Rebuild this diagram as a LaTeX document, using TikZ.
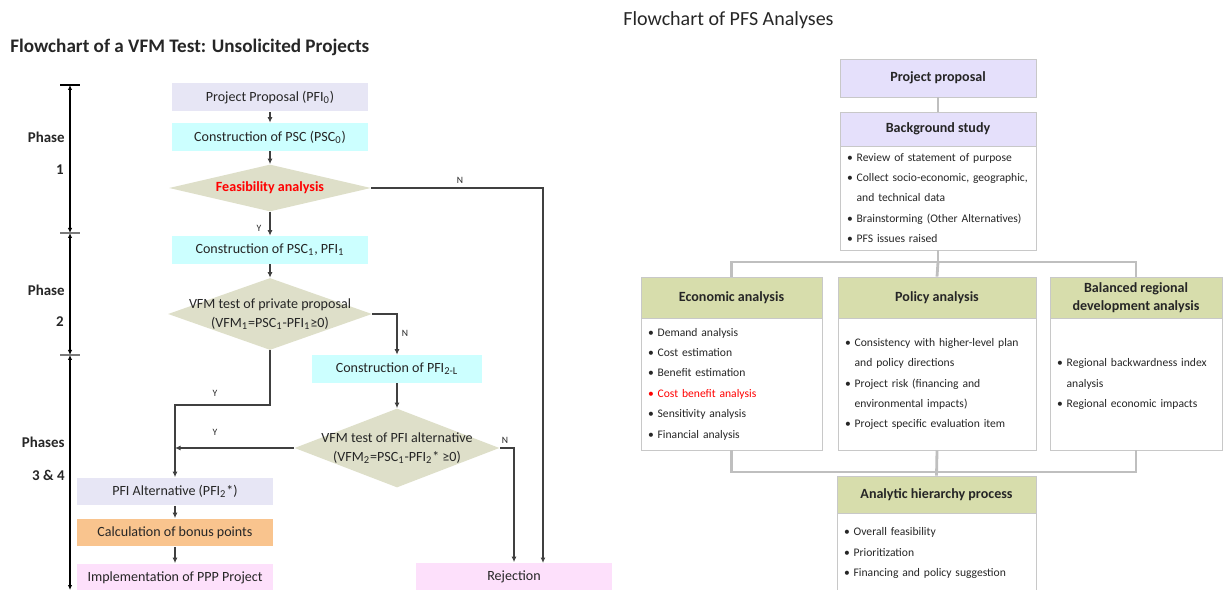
\documentclass[tikz,border=0pt]{standalone}
\usepackage{fontspec}
\setmainfont{Carlito}
\usepackage{tikz}
\usetikzlibrary{arrows.meta,calc,positioning,shapes.geometric,shadows}
\definecolor{figInk}{RGB}{38,38,38}
\definecolor{figLine}{RGB}{64,64,64}
\definecolor{treeLine}{RGB}{191,191,191}
\definecolor{boxEdge}{RGB}{200,200,200}
\definecolor{lavLeft}{RGB}{231,230,245}
\definecolor{lavRight}{RGB}{229,224,251}
\definecolor{cyanBox}{RGB}{204,255,255}
\definecolor{decFill}{RGB}{222,223,201}
\definecolor{bonusBox}{RGB}{249,196,142}
\definecolor{pinkBox}{RGB}{253,224,251}
\definecolor{headKhaki}{RGB}{215,221,172}
\definecolor{alertRed}{RGB}{255,0,0}

\begin{document}
\begin{tikzpicture}[
  x=0.02cm,
  y=-0.02cm,
  >=Latex,
  font=\fontsize{8}{9.5}\selectfont,
  flowbox/.style={minimum width=3.92cm, minimum height=0.56cm, inner sep=0pt, text=figInk},
  decision/.style={diamond, fill=decFill, inner sep=0pt},
  dectext/.style={align=center, text=figInk, font=\fontsize{8}{10.5}\selectfont},
  line/.style={-{Latex[length=1.1mm,width=1mm]}, draw=figLine, line width=0.6pt},
  yn/.style={font=\fontsize{5.5}{6}\selectfont, text=figInk},
  phase/.style={anchor=east, inner sep=0pt, font=\bfseries\fontsize{8.5}{10}\selectfont, text=figInk},
  phasearrow/.style={{Latex[length=1mm,width=0.9mm]}-{Latex[length=1mm,width=0.9mm]}, draw=black, line width=0.7pt},
  head/.style={draw=boxEdge, line width=0.4pt, inner sep=0pt, align=center, font=\bfseries\fontsize{8}{10}\selectfont, text=figInk},
  body/.style={draw=boxEdge, line width=0.4pt, fill=white, inner xsep=0.14cm, inner ysep=0pt, align=left, font=\fontsize{6.6}{11.6}\selectfont, text=figInk,
    drop shadow={opacity=0.2, shadow xshift=0.6pt, shadow yshift=-0.6pt}},
  tree/.style={draw=treeLine, line width=1.6pt}
]
\useasboundingbox (0,0) rectangle (1223,590);

% titles
\node[anchor=west, inner sep=0pt, font=\bfseries\fontsize{10.9}{12}\selectfont, text=figInk] (title1) at (10,47) {Flowchart of a VFM Test: Unsolicited Projects};
\node[anchor=west, inner sep=0pt, font=\fontsize{11.4}{13}\selectfont, text=figInk] (title2) at (623,20) {Flowchart of PFS Analyses};

% phase axis
\coordinate (p0) at (70,85);
\coordinate (p1) at (70,233);
\coordinate (p2) at (70,355);
\coordinate (p3) at (70,590);
\draw[phasearrow] (p0) -- (p1);
\draw[phasearrow] (p1) -- (p2);
\draw[phasearrow] (p2) -- (p3);
\draw[black, line width=0.7pt] ([xshift=-0.2cm]p0) -- ([xshift=0.2cm]p0);
\draw[figLine!70, line width=0.7pt] ([xshift=-0.2cm]p1) -- ([xshift=0.2cm]p1);
\draw[figLine!70, line width=0.7pt] ([xshift=-0.2cm]p2) -- ([xshift=0.2cm]p2);
\node[phase] (ph1a) at (65,137) {Phase};
\node[phase] (ph1b) at (64,170) {1};
\node[phase] (ph2a) at (65,290) {Phase};
\node[phase] (ph2b) at (64,322) {2};
\node[phase] (ph3a) at (65,442) {Phases};
\node[phase] (ph3b) at (65,475) {3 \& 4};

% VFM flow
\node[flowbox, fill=lavLeft] (pfi0) at (270,97.5) {Project Proposal (PFI\textsubscript{0})};
\node[flowbox, fill=cyanBox] (psc0) at (270,137) {Construction of PSC (PSC\textsubscript{0})};
\node[decision, minimum width=4.04cm, minimum height=0.94cm] (feas) at (270,188) {};
\node[dectext, text=alertRed, font=\bfseries\fontsize{8}{10}\selectfont] (feast) at (feas) {Feasibility analysis};
\node[flowbox, fill=cyanBox] (psc1) at (270,250) {Construction of PSC\textsubscript{1}, PFI\textsubscript{1}};
\node[decision, minimum width=4.08cm, minimum height=1.44cm] (vfm1) at (270,314) {};
\node[dectext] (vfm1t) at (vfm1) {VFM test of private proposal\\(VFM\textsubscript{1}=PSC\textsubscript{1}-PFI\textsubscript{1}≥0)};
\node[flowbox, fill=cyanBox, minimum width=3.4cm] (pfi2) at (397,369) {Construction of PFI\textsubscript{2-L}};
\node[decision, minimum width=4.1cm, minimum height=1.58cm] (vfm2) at (397,448) {};
\node[dectext] (vfm2t) at (vfm2) {VFM test of PFI alternative\\(VFM\textsubscript{2}=PSC\textsubscript{1}-PFI\textsubscript{2}* ≥0)};
\node[flowbox, fill=lavLeft] (pfi3) at (175,491.5) {PFI Alternative (PFI\textsubscript{2}*)};
\node[flowbox, fill=bonusBox] (bonus) at (175,532.5) {Calculation of bonus points};
\node[flowbox, fill=pinkBox] (impl) at (175,577.5) {Implementation of PPP Project};
\node[flowbox, fill=pinkBox] (rej) at (514,576.5) {Rejection};

\coordinate (ybend) at (175,405);
\coordinate (rejin) at (543,563);

\draw[line] (pfi0.south) -- (psc0.north);
\draw[line] (psc0.south) -- (feas.north);
\draw[line] (feas.south) -- (psc1.north);
\draw[line] (psc1.south) -- (vfm1.north);
\draw[line] (vfm1.east) -| (pfi2.north);
\draw[line] (pfi2.south) -- (vfm2.north);
\draw[line] (vfm1.south) |- (ybend) -- (pfi3.north);
\draw[line] (vfm2.west) -- (vfm2.west -| pfi3.north);
\draw[line] (vfm2.east) -| (rej.north);
\draw[line] (feas.east) -| (rejin);
\draw[line] (pfi3.south) -- (bonus.north);
\draw[line] (bonus.south) -- (impl.north);

\node[yn] (y1) at (259,228) {Y};
\node[yn] (n1) at (460,180) {N};
\node[yn] (n2) at (405,333) {N};
\node[yn] (y2) at (215,393) {Y};
\node[yn] (y3) at (215,432) {Y};
\node[yn] (n3) at (505,440) {N};

% PFS analyses
\node[head, fill=lavRight, minimum width=3.92cm, minimum height=0.76cm] (prop) at (938,78) {Project proposal};
\node[head, fill=lavRight, minimum width=3.92cm, minimum height=0.68cm] (bghead) at (938,129) {Background study};
\node[body, minimum height=2.08cm, text width=3.64cm] (bgbody) at (938,198) {%
\textbullet\ Review of statement of purpose\\
\textbullet\ Collect socio-economic, geographic,\\
\phantom{\textbullet\ }and technical data\\
\textbullet\ Brainstorming (Other Alternatives)\\
\textbullet\ PFS issues raised};

\node[head, fill=headKhaki, minimum width=3.62cm, minimum height=0.82cm] (econhead) at (731.5,297.5) {Economic analysis};
\node[body, minimum height=2.64cm, text width=3.34cm] (econbody) at (731.5,384) {%
\textbullet\ Demand analysis\\
\textbullet\ Cost estimation\\
\textbullet\ Benefit estimation\\
{\color{alertRed}\textbullet\ Cost benefit analysis}\\
\textbullet\ Sensitivity analysis\\
\textbullet\ Financial analysis};

\node[head, fill=headKhaki, minimum width=3.96cm, minimum height=0.82cm] (polhead) at (937,297.5) {Policy analysis};
\node[body, minimum height=2.64cm, text width=3.68cm] (polbody) at (937,384) {%
\textbullet\ Consistency with higher-level plan\\
\phantom{\textbullet\ }and policy directions\\
\textbullet\ Project risk (financing and\\
\phantom{\textbullet\ }environmental impacts)\\
\textbullet\ Project specific evaluation item};

\node[head, fill=headKhaki, minimum width=3.44cm, minimum height=0.82cm] (balhead) at (1136,297.5) {Balanced regional\\development analysis};
\node[body, minimum height=2.64cm, text width=3.16cm] (balbody) at (1136,384) {%
\textbullet\ Regional backwardness index\\
\phantom{\textbullet\ }analysis\\
\textbullet\ Regional economic impacts};

\node[head, fill=headKhaki, minimum width=3.98cm, minimum height=0.74cm] (ahphead) at (936.5,494.5) {Analytic hierarchy process};
\node[body, minimum height=1.6cm, text width=3.7cm] (ahpbody) at (936.5,553) {%
\textbullet\ Overall feasibility\\
\textbullet\ Prioritization\\
\textbullet\ Financing and policy suggestion};

\coordinate (bus1) at (938,262);
\coordinate (bus2) at (938,472);
\draw[tree] (prop.south) -- (bghead.north);
\draw[tree] (bgbody.south) -- (bus1);
\draw[tree] (econhead.north) |- (bus1 -| balhead.north) -- (balhead.north);
\draw[tree] (bus1) -- (polhead.north);
\draw[tree] (econbody.south) |- (bus2 -| balbody.south) -- (balbody.south);
\draw[tree] (polbody.south) -- (ahphead.north);
\end{tikzpicture}
\end{document}
